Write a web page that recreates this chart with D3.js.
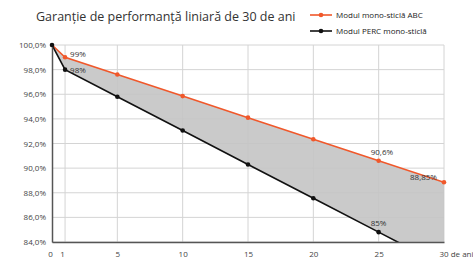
<!DOCTYPE html>
<html>
<head>
<meta charset="utf-8">
<script src="https://cdn.jsdelivr.net/npm/d3@7"></script>
<style>
  body { margin: 0; background: #fff; }
  text { font-family: "Open Sans", sans-serif; }
  .grid line { stroke: #d4d4d4; stroke-width: 1; }
  .tick text { fill: #444; font-size: 8px; }
</style>
</head>
<body>
<div class="chart"></div>
<script>
var years = [0, 1, 5, 10, 15, 20, 25, 30];
var abc = [100, 99, 97.6, 95.85, 94.1, 92.35, 90.6, 88.85];
var perc = [100, 98, 95.8, 93.05, 90.3, 87.55, 84.8, 82.05];
var yTicks = [84, 86, 88, 90, 92, 94, 96, 98, 100];
var xTicks = [1, 5, 10, 15, 20, 25, 30];
var xTickLabels = ["1", "5", "10", "15", "20", "25", "30 de ani"];
var seriesNames = ["Modul mono-sticlă ABC", "Modul PERC mono-sticlă"];
var pointLabels = [
  {s: "abc", i: 1, t: "99%"},
  {s: "perc", i: 1, t: "98%"},
  {s: "abc", i: 6, t: "90,6%"},
  {s: "abc", i: 7, t: "88,85%"},
  {s: "perc", i: 6, t: "85%"}
];

var W = 473, H = 258;
var margin = {top: 45, right: 29, bottom: 16, left: 52},
    width = W - margin.left - margin.right,
    height = H - margin.top - margin.bottom;

var orange = "#f0582b", black = "#111";

var svg = d3.select(".chart").append("svg")
    .attr("width", W)
    .attr("height", H);

var g = svg.append("g")
    .attr("transform", "translate(" + margin.left + "," + margin.top + ")");

var x = d3.scaleLinear().domain([0, 30]).range([0, width]);
var y = d3.scaleLinear().domain([84, 100]).range([height, 0]);

var data = years.map(function (d, i) { return {year: d, abc: abc[i], perc: perc[i]}; });

// gridlines
var grid = g.append("g").attr("class", "grid");
grid.selectAll(".h").data(yTicks).enter().append("line")
  .attr("x1", 0).attr("x2", width)
  .attr("y1", function (d) { return y(d); }).attr("y2", function (d) { return y(d); });
grid.selectAll(".v").data(xTicks).enter().append("line")
  .attr("y1", 0).attr("y2", height)
  .attr("x1", function (d) { return x(d); }).attr("x2", function (d) { return x(d); });

g.append("clipPath").attr("id", "clip")
  .append("rect").attr("width", width).attr("height", height);

var area = d3.area()
  .x(function (d) { return x(d.year); })
  .y0(function (d) { return y(d.perc); })
  .y1(function (d) { return y(d.abc); });

g.append("path")
  .datum(data)
  .attr("clip-path", "url(#clip)")
  .attr("fill", "#c4c4c4")
  .attr("fill-opacity", 0.9)
  .attr("d", area);

var lineAbc = d3.line().x(function (d) { return x(d.year); }).y(function (d) { return y(d.abc); });
var linePerc = d3.line().x(function (d) { return x(d.year); }).y(function (d) { return y(d.perc); });

g.append("path").datum(data).attr("clip-path", "url(#clip)")
  .attr("fill", "none").attr("stroke", orange).attr("stroke-width", 1.6).attr("d", lineAbc);
g.append("path").datum(data).attr("clip-path", "url(#clip)")
  .attr("fill", "none").attr("stroke", black).attr("stroke-width", 1.6).attr("d", linePerc);

// axes
var yAxis = d3.axisLeft(y).tickValues(yTicks).tickSize(0).tickPadding(6)
  .tickFormat(function (d) { return d3.format(".1f")(d).replace(".", ",") + "%"; });
var xAxis = d3.axisBottom(x).tickValues([0].concat(xTicks)).tickSize(0).tickPadding(6)
  .tickFormat(function (d, i) { return i === 0 ? "0" : xTickLabels[i - 1]; });

var gy = g.append("g").call(yAxis);
gy.select(".domain").attr("stroke", "#555").attr("stroke-width", 1.5);
var gx = g.append("g").attr("transform", "translate(0," + height + ")").call(xAxis);
gx.select(".domain").attr("stroke", "#555").attr("stroke-width", 1.5);
gx.selectAll(".tick text").attr("dy", "1.1em")
  .attr("dx", function (d) { return d === 0 ? -2 : d === 1 ? -3 : d === 30 ? 12 : 0; });

// points
g.selectAll(".pa").data(data.filter(function (d) { return d.year > 0; })).enter().append("circle")
  .attr("cx", function (d) { return x(d.year); }).attr("cy", function (d) { return y(d.abc); })
  .attr("r", 2.3).attr("fill", orange);
g.selectAll(".pp").data(data.filter(function (d) { return d.perc >= 84; })).enter().append("circle")
  .attr("cx", function (d) { return x(d.year); }).attr("cy", function (d) { return y(d.perc); })
  .attr("r", 2.3).attr("fill", black);

// point labels
g.selectAll(".pl").data(pointLabels).enter().append("text")
  .attr("x", function (d) { return x(years[d.i]); })
  .attr("y", function (d) { return y(d.s === "abc" ? abc[d.i] : perc[d.i]); })
  .attr("dx", function (d) { return d.i === 1 ? 5 : d.i === 7 ? -34 : -8; })
  .attr("dy", function (d) { return d.i === 1 ? (d.s === "abc" ? 0 : 3) : d.i === 7 ? -2 : -6; })
  .attr("font-size", 8).attr("fill", "#333")
  .text(function (d) { return d.t; });

// title
svg.append("text").attr("x", 36).attr("y", 21)
  .attr("font-size", 12.5).attr("fill", "#333")
  .text("Garanție de performanță liniară de 30 de ani");

// legend
var leg = svg.selectAll(".leg").data(seriesNames).enter().append("g")
  .attr("transform", function (d, i) { return "translate(310," + (15 + i * 16) + ")"; });
leg.append("line").attr("x1", 0).attr("x2", 22)
  .attr("stroke", function (d, i) { return i ? black : orange; }).attr("stroke-width", 1.6);
leg.append("circle").attr("cx", 11).attr("r", 2.3)
  .attr("fill", function (d, i) { return i ? black : orange; });
leg.append("text").attr("x", 26).attr("dy", "0.35em")
  .attr("font-size", 8).attr("fill", "#222")
  .text(function (d) { return d; });
</script>
</body>
</html>
